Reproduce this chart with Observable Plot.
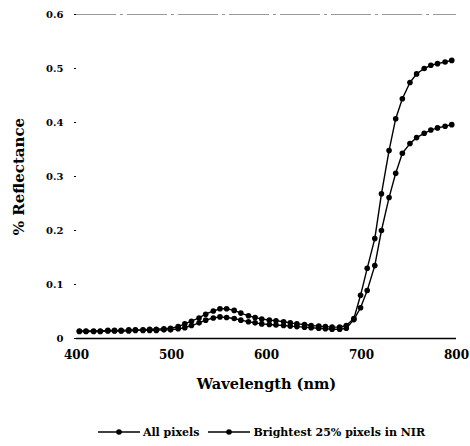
<!DOCTYPE html>
<html><head><meta charset="utf-8">
<script src="https://cdn.jsdelivr.net/npm/d3@7"></script>
<script src="https://cdn.jsdelivr.net/npm/@observablehq/plot@0.6"></script>
<style>
body{margin:0;background:#fff;font-family:"DejaVu Serif",serif;}
#legend{position:absolute;left:0;top:420px;width:470px;height:24px;display:flex;justify-content:center;align-items:center;gap:8px;font-size:11px;font-weight:bold;color:#000;padding-left:52px;box-sizing:border-box;}
.item{display:flex;align-items:center;gap:2px;}
</style></head><body><div id="chart"></div><div id="legend"></div><script>
const wavelengths = [403,410,418,425,433,440,447,455,462,470,477,484,492,499,507,514,521,529,536,544,551,558,566,573,581,588,595,603,610,618,625,632,640,647,655,662,669,677,684,692,699,706,714,721,729,736,743,751,758,766,773,780,788,795];
const allPixels = [0.013,0.013,0.013,0.013,0.014,0.014,0.014,0.014,0.015,0.015,0.015,0.015,0.016,0.016,0.018,0.020,0.024,0.029,0.034,0.038,0.040,0.039,0.037,0.034,0.031,0.029,0.027,0.026,0.025,0.024,0.023,0.022,0.021,0.020,0.019,0.018,0.017,0.017,0.019,0.035,0.057,0.089,0.135,0.200,0.261,0.306,0.343,0.361,0.372,0.380,0.386,0.390,0.393,0.396];
const brightest = [0.014,0.014,0.014,0.014,0.015,0.015,0.015,0.016,0.016,0.016,0.017,0.017,0.018,0.019,0.022,0.027,0.032,0.038,0.045,0.051,0.055,0.055,0.052,0.047,0.042,0.039,0.036,0.034,0.033,0.031,0.029,0.027,0.026,0.024,0.023,0.022,0.021,0.021,0.024,0.037,0.080,0.130,0.185,0.268,0.348,0.407,0.444,0.474,0.490,0.500,0.506,0.509,0.512,0.515];
const seriesNames = ["All pixels","Brightest 25% pixels in NIR"];
const xTicks = [400,500,600,700,800];
const yTicks = [0,0.1,0.2,0.3,0.4,0.5,0.6];
const xTitle = "Wavelength (nm)";
const yTitle = "% Reflectance";

const data = wavelengths.flatMap((w,i)=>[
  {w, v: allPixels[i], s: seriesNames[0]},
  {w, v: brightest[i], s: seriesNames[1]}
]);

const plot = Plot.plot({
  width:470, height:405, marginLeft:76, marginRight:14, marginTop:14, marginBottom:67,
  style:{fontFamily:"'DejaVu Serif', serif", background:"#fff", color:"#000"},
  x:{domain:[400,800]}, y:{domain:[0,0.6]},
  marks:[
    Plot.ruleY([0.6],{stroke:"#999",strokeWidth:1,strokeDasharray:"40,4,3,4"}),
    Plot.axisY({ticks:yTicks, tickFormat:d=> d===0?"0":d.toFixed(1), tickSize:2, tickPadding:11, fontSize:10, fontWeight:"bold", label:null}),
    Plot.axisX({ticks:xTicks, tickSize:0, tickPadding:12, fontSize:12, fontWeight:"bold", label:null}),
    Plot.ruleY([0],{stroke:"#000",strokeWidth:1.5}),
    Plot.text([yTitle],{text:d=>d, frameAnchor:"left", textAnchor:"middle", dx:-57, rotate:-90, fontSize:15, fontWeight:"bold"}),
    Plot.text([xTitle],{text:d=>d, frameAnchor:"bottom", dy:50, fontSize:14.5, fontWeight:"bold"}),
    Plot.line(data,{x:"w",y:"v",z:"s",stroke:"#000",strokeWidth:1.4}),
    Plot.dot(data,{x:"w",y:"v",r:2.8,fill:"#000",stroke:"none"})
  ]
});
document.getElementById("chart").appendChild(plot);

const legend = d3.select("#legend");
seriesNames.forEach(name=>{
  const it = legend.append("div").attr("class","item");
  const s = it.append("svg").attr("width",44).attr("height",10);
  s.append("line").attr("x1",1).attr("x2",43).attr("y1",5).attr("y2",5).attr("stroke","#000").attr("stroke-width",1.4);
  s.append("circle").attr("cx",22).attr("cy",5).attr("r",2.8).attr("fill","#000");
  it.append("span").text(name);
});
</script></body></html>
